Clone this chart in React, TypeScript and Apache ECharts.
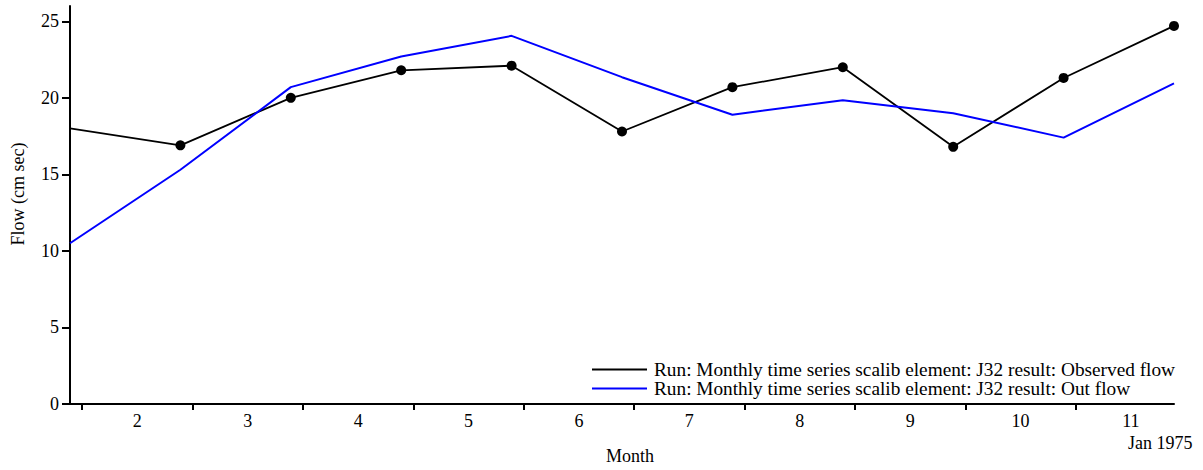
import React, { useEffect, useRef } from "react";
import * as echarts from "echarts";

// Month labels shown under the x axis (month index 0 = Feb)
const monthLabels = ["2", "3", "4", "5", "6", "7", "8", "9", "10", "11"];
// Data point index along the x axis (one per month end)
const pointIndex = [0, 1, 2, 3, 4, 5, 6, 7, 8, 9, 10];
// Observed flow (cm sec)
const observedFlow = [18.0, 16.9, 20.0, 21.8, 22.1, 17.8, 20.7, 22.0, 16.8, 21.3, 24.7];
// Modelled out flow (cm sec)
const outFlow = [10.5, 15.3, 20.7, 22.7, 24.05, 21.35, 18.9, 19.85, 19.0, 17.4, 20.95];
// Y axis tick values
const yTicks = [0, 5, 10, 15, 20, 25];

const seriesNames = [
  "Run: Monthly time series scalib element: J32 result: Observed flow",
  "Run: Monthly time series scalib element: J32 result: Out flow",
];

const FONT = "'Liberation Serif', 'Times New Roman', serif";

export default function App() {
  const ref = useRef<HTMLDivElement>(null);

  useEffect(() => {
    if (!ref.current) return;
    const chart = echarts.init(ref.current, null, { renderer: "svg" });

    const tickOffset = 0.11;
    const tickValues = monthLabels.map((_, i) => i + tickOffset);
    const labelValues = monthLabels.map((_, i) => i + tickOffset + 0.5);

    const obsData = pointIndex.map((x, i) =>
      i === 0
        ? { value: [x, observedFlow[i]], symbol: "none" }
        : { value: [x, observedFlow[i]] }
    );
    const outData = pointIndex.map((x, i) => [x, outFlow[i]]);

    chart.setOption({
      animation: false,
      backgroundColor: "#ffffff",
      textStyle: { fontFamily: FONT },
      grid: { left: 70, right: 29, top: 6, bottom: 65.3, containLabel: false },
      legend: {
        orient: "vertical",
        left: 587,
        top: 355,
        icon: "rect",
        itemWidth: 55,
        itemHeight: 2,
        itemGap: 0,
        data: [
          { name: seriesNames[0], itemStyle: { color: "#000000" } },
          { name: seriesNames[1], itemStyle: { color: "#0000ff" } },
        ],
        textStyle: {
          fontFamily: FONT,
          fontSize: 19.3,
          color: "#000000",
          lineHeight: 18.7,
          padding: [0, 0, 0, 2],
        },
      },
      xAxis: {
        type: "value",
        min: 0,
        max: 10,
        name: "Month",
        nameLocation: "middle",
        nameGap: 43,
        nameTextStyle: {
          fontFamily: FONT,
          fontSize: 18,
          color: "#000000",
          padding: [0, 0, 0, 16],
        },
        splitLine: { show: false },
        axisLine: { show: true, lineStyle: { color: "#000000", width: 2 } },
        axisTick: {
          show: true,
          customValues: tickValues,
          length: 6,
          lineStyle: { color: "#000000", width: 2 },
        },
        axisLabel: {
          customValues: labelValues,
          margin: 8,
          fontFamily: FONT,
          fontSize: 18,
          color: "#000000",
          formatter: (v: number) => monthLabels[Math.round(v - tickOffset - 0.5)] ?? "",
        },
      },
      yAxis: {
        type: "value",
        min: 0,
        max: 26,
        splitLine: { show: false },
        axisLine: { show: true, lineStyle: { color: "#000000", width: 2 } },
        axisTick: {
          show: true,
          customValues: yTicks,
          length: 8,
          lineStyle: { color: "#000000", width: 2 },
        },
        axisLabel: {
          customValues: yTicks,
          margin: 11,
          fontFamily: FONT,
          fontSize: 18,
          color: "#000000",
        },
      },
      graphic: [
        {
          type: "text",
          x: 18,
          y: 194,
          rotation: Math.PI / 2,
          style: {
            text: "Flow (cm sec)",
            fontFamily: FONT,
            fontSize: 18,
            fill: "#000000",
            align: "center",
            verticalAlign: "middle",
          },
        },
        {
          type: "text",
          x: 1128,
          y: 443,
          style: {
            text: "Jan 1975",
            fontFamily: FONT,
            fontSize: 18,
            fill: "#000000",
            align: "left",
            verticalAlign: "middle",
          },
        },
      ],
      series: [
        {
          name: seriesNames[0],
          type: "line",
          data: obsData,
          symbol: "circle",
          symbolSize: 10,
          showSymbol: true,
          itemStyle: { color: "#000000" },
          lineStyle: { color: "#000000", width: 1.8 },
        },
        {
          name: seriesNames[1],
          type: "line",
          data: outData,
          symbol: "none",
          itemStyle: { color: "#0000ff" },
          lineStyle: { color: "#0000ff", width: 2 },
        },
      ],
    });

    return () => chart.dispose();
  }, []);

  return (
    <div
      ref={ref}
      style={{ position: "absolute", left: 0, top: 0, width: 1203, height: 470, background: "#fff" }}
    />
  );
}
